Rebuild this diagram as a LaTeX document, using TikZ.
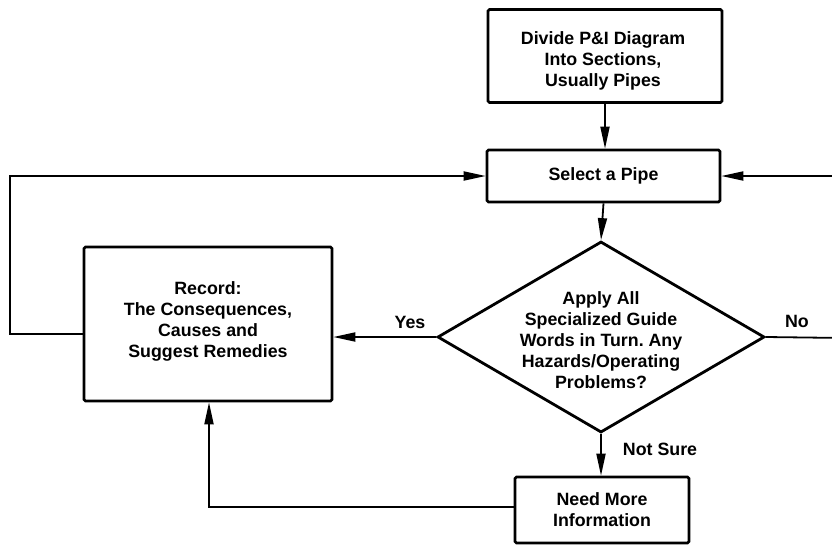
\documentclass[tikz,border=0pt]{standalone}
\usepackage{fontspec}
\setmainfont{Liberation Sans}
\usetikzlibrary{arrows.meta,shapes.geometric}
\frenchspacing
\tikzset{
  box/.style={draw, line width=2.6pt, rounded corners=1.5pt, align=center, inner sep=0pt},
  dia/.style={draw, diamond, line width=2.8pt, inner sep=0pt},
  txt/.style={align=center, inner sep=0pt},
  lbl/.style={inner sep=0pt},
  conn/.style={line width=1.8pt},
  arr/.style={conn, -{Triangle[length=22pt,width=9pt]}},
}
\begin{document}
\begin{tikzpicture}[x=1pt, y=-1pt, font=\fontsize{17.8}{21}\selectfont\bfseries]
\useasboundingbox (0,0) rectangle (832,544);
% nodes
\node[box, minimum width=234pt, minimum height=93pt] (divide) at (605,56) {};
\node[txt] (dividetext) at (603,61) {Divide P\&I Diagram\\Into Sections,\\Usually Pipes};
\node[box, minimum width=233pt, minimum height=52pt] (select) at (603.5,176) {Select a Pipe};
\node[dia, minimum width=327pt, minimum height=191pt] (dec) at (601,337) {};
\node[txt] (dectext) at (601,340)
  {Apply All\\Specialized Guide\\Words in Turn. Any\\Hazards/Operating\\Problems?};
\node[box, minimum width=248pt, minimum height=154pt] (record) at (208,324) {};
\node[txt] (recordtext) at (208,321)
  {Record:\\The Consequences,\\Causes and\\Suggest Remedies};
\node[box, minimum width=174pt, minimum height=66pt] (need) at (602,510)
  {Need More\\Information};
% labels
\node[lbl] (yes) at (410,322) {Yes};
\node[lbl] (no) at (797,321) {No};
\node[lbl] (notsure) at (660,449) {Not Sure};
% helper coordinates
\coordinate (lc) at (10,334);
\coordinate (rc) at (845,338);
\coordinate (bc) at (209,507);
% connectors
\draw[arr] (divide.south) -- (divide.south |- select.north);
\draw[arr] (select.south) -- (dec.north);
\draw[arr] (dec.west) -- (dec.west -| record.east);
\draw[arr] (record.west |- lc) -- (lc) |- (select.west);
\draw[arr] (dec.east) -- (rc) |- (select.east);
\draw[arr] (dec.south) -- (dec.south |- need.north);
\draw[arr] (need.west |- bc) -- (bc) -- (bc |- record.south);
\end{tikzpicture}
\end{document}
